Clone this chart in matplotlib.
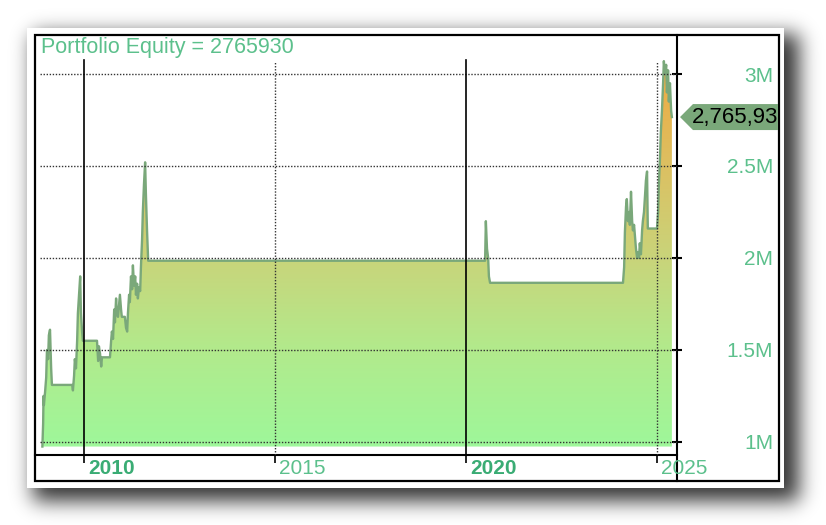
import numpy as np
import matplotlib
matplotlib.use('Agg')
from matplotlib import pyplot as plt
from matplotlib import transforms
from matplotlib.colors import LinearSegmentedColormap
from matplotlib.patches import Rectangle, Polygon

# =============================================================================================
# Data: portfolio equity curve (millions) against decimal year
years = [2008.91, 2008.93, 2008.94, 2008.95, 2008.98, 2009.01, 2009.03, 2009.06, 2009.08,
         2009.11, 2009.14, 2009.16,
         2009.69, 2009.71, 2009.74, 2009.76, 2009.79, 2009.82, 2009.84, 2009.87, 2009.90,
         2009.92, 2009.95, 2009.97,
         2010.34, 2010.37, 2010.39, 2010.42, 2010.45, 2010.47,
         2010.68, 2010.71, 2010.73, 2010.76, 2010.79, 2010.81, 2010.84, 2010.86, 2010.89,
         2010.94, 2010.97, 2010.99,
         2011.07, 2011.10, 2011.13, 2011.15, 2011.18, 2011.20, 2011.23, 2011.26, 2011.28,
         2011.31, 2011.34, 2011.36, 2011.39, 2011.41, 2011.44, 2011.47, 2011.49, 2011.52,
         2011.54, 2011.57, 2011.60, 2011.62, 2011.65, 2011.68,
         2020.50, 2020.52, 2020.55, 2020.58, 2020.60, 2020.63,
         2024.11, 2024.14, 2024.16, 2024.19, 2024.21, 2024.24, 2024.27, 2024.29, 2024.32,
         2024.35, 2024.37, 2024.40, 2024.45, 2024.48, 2024.50, 2024.53, 2024.55, 2024.58,
         2024.61, 2024.63, 2024.66, 2024.69, 2024.71, 2024.74, 2024.76,
         2025.00, 2025.03, 2025.05, 2025.08, 2025.10, 2025.13, 2025.16, 2025.18, 2025.21,
         2025.24, 2025.26, 2025.29, 2025.31, 2025.34, 2025.37, 2025.39]
equity = [0.975, 1.10, 1.25, 1.20, 1.27, 1.35, 1.50, 1.45, 1.58, 1.61, 1.40, 1.31,
          1.31, 1.28, 1.36, 1.45, 1.40, 1.55, 1.70, 1.80, 1.90, 1.70, 1.60, 1.55,
          1.55, 1.44, 1.52, 1.48, 1.41, 1.46,
          1.46, 1.55, 1.60, 1.56, 1.72, 1.65, 1.78, 1.70, 1.68, 1.80, 1.72, 1.68,
          1.68, 1.62, 1.60, 1.70, 1.80, 1.76, 1.90, 1.83, 1.96, 1.85, 1.90, 1.80,
          1.86, 1.78, 1.84, 1.82, 1.95, 2.10, 2.25, 2.40, 2.52, 2.35, 2.15, 1.985,
          1.985, 2.20, 2.05, 2.00, 1.90, 1.865,
          1.865, 1.95, 2.14, 2.28, 2.32, 2.20, 2.25, 2.18, 2.36, 2.20, 2.15, 2.18,
          2.05, 2.00, 2.03, 2.00, 2.08, 2.02, 2.15, 2.20, 2.25, 2.35, 2.42, 2.47, 2.16,
          2.16, 2.25, 2.40, 2.55, 2.68, 2.80, 2.95, 3.07, 3.00, 3.05, 2.90, 3.02,
          2.85, 2.95, 2.80, 2.766]
final_equity = 2765930
y_ticks = [1.0, 1.5, 2.0, 2.5, 3.0]
y_tick_labels = ['1M', '1.5M', '2M', '2.5M', '3M']
x_ticks = [2010, 2015, 2020, 2025]
bold_years = [2010, 2020]
# =============================================================================================

W, H = 826, 525
FONT = 'Liberation Sans'
TEXT_GREEN = '#5cc08c'
BOLD_GREEN = '#3aac74'
LINE_GREEN = '#7aa87a'
DOT = (0, (1, 1.2))

fig = plt.figure(figsize=(W / 100, H / 100), dpi=100)

# background layer in pixel coordinates: shadow, white card, frame
bg = fig.add_axes([0, 0, 1, 1])
bg.set_xlim(0, W)
bg.set_ylim(H, 0)
bg.axis('off')

yy, xx = np.mgrid[0:H, 0:W]
mask = ((xx >= 33) & (xx <= 798) & (yy >= 34) & (yy <= 500)).astype(float)
k = np.exp(-0.5 * (np.arange(-36, 37) / 10.0) ** 2)
k /= k.sum()
blur = np.apply_along_axis(lambda r: np.convolve(r, k, mode='same'), 1, mask)
blur = np.apply_along_axis(lambda c: np.convolve(c, k, mode='same'), 0, blur)
shadow = np.zeros((H, W, 4))
shadow[..., 3] = 0.8 * blur
bg.imshow(shadow, extent=(0, W, H, 0), aspect='auto', zorder=0)

bg.add_patch(Rectangle((27, 28), 757, 460, facecolor='white', edgecolor='none', zorder=1))
bg.add_patch(Rectangle((34.5, 34.5), 744, 446, fill=False, edgecolor='black', lw=1.6, zorder=5))
bg.plot([35, 677], [455, 455], color='black', lw=1.5, zorder=5)
bg.plot([677, 677], [35, 481], color='black', lw=1.5, zorder=5)

# main chart axes
ax = fig.add_axes([35 / W, 1 - 455 / H, 642 / W, 420 / H])
ax.patch.set_alpha(0)
for s in ax.spines.values():
    s.set_visible(False)
ax.set_xlim(2008.717, 2025.524)
ax.set_ylim(0.929, 3.212)

# gradient fill under the curve
ylo, yhi = ax.get_ylim()
stops = [(0.975, '#9ef79a'), (1.5, '#b2ea8c'), (2.0, '#c9d47a'),
         (2.5, '#dcc062'), (2.9, '#eab04a')]
cmap = LinearSegmentedColormap.from_list(
    'eq', [((v - ylo) / (yhi - ylo), c) for v, c in
           [(ylo, '#9ef79a')] + stops + [(yhi, '#eeaa44')]])
poly = ax.fill_between(years, equity, 0.975, facecolor='none', edgecolor='none')
grad = np.linspace(ylo, yhi, 400).reshape(-1, 1)
im = ax.imshow(grad, extent=[2008.717, 2025.524, ylo, yhi], origin='lower',
               cmap=cmap, vmin=ylo, vmax=yhi, aspect='auto', zorder=1)
im.set_clip_path(poly.get_paths()[0], transform=ax.transData)

ax.plot(years, equity, color=LINE_GREEN, lw=1.7, zorder=3)

# grid lines
for v in y_ticks:
    ax.axhline(v, xmin=5 / 642, xmax=1, color='#333333', lw=1.0, ls=DOT, zorder=4)
for yr in x_ticks:
    if yr in bold_years:
        ax.axvline(yr, ymin=0, ymax=(455 - 60) / 420, color='black', lw=1.2, zorder=4)
    else:
        ax.axvline(yr, ymin=0, ymax=(455 - 62) / 420, color='#333333', lw=1.0, ls=DOT, zorder=4)

# y axis on the right
ax.yaxis.tick_right()
ax.set_yticks(y_ticks, y_tick_labels)
ax.tick_params(axis='y', direction='inout', length=6.5, width=1.5, color='black',
               pad=65.9, labelsize=15, labelcolor=TEXT_GREEN)
for lbl in ax.get_yticklabels():
    lbl.set_ha('right')
    lbl.set_family(FONT)

# x axis
ax.set_xticks(x_ticks, [str(y) for y in x_ticks])
ax.tick_params(axis='x', direction='out', length=5.8, width=1.2, color='black',
               pad=-2.9, labelsize=15)
shift = transforms.ScaledTranslation(4 / 100, 0, fig.dpi_scale_trans)
for yr, lbl in zip(x_ticks, ax.get_xticklabels()):
    lbl.set_ha('left')
    lbl.set_family(FONT)
    lbl.set_transform(lbl.get_transform() + shift)
    if yr in bold_years:
        lbl.set_fontweight('bold')
        lbl.set_color(BOLD_GREEN)
    else:
        lbl.set_color(TEXT_GREEN)

# title
ax.text(6 / 642, (455 - 47) / 420, 'Portfolio Equity = %d' % final_equity,
        transform=ax.transAxes, ha='left', va='center', fontsize=15.5,
        family=FONT, color=TEXT_GREEN, zorder=6)

# last value marker on the right axis
val = final_equity / 1e6
mix = transforms.blended_transform_factory(ax.transAxes, ax.transData)
dy = 13 / 184
tag = Polygon([(1.0047, val), (1.0249, val + dy), (1.1573, val + dy),
               (1.1573, val - dy), (1.0249, val - dy)], closed=True,
              facecolor=LINE_GREEN, edgecolor='none', transform=mix, clip_on=False, zorder=6)
ax.add_patch(tag)
t = ax.text(1.0234, val, '{:,}'.format(final_equity), transform=mix, ha='left',
            va='center', fontsize=16, family=FONT, color='black', zorder=7, clip_on=True)
t.set_clip_path(Rectangle((677, 34), 101, 447, transform=bg.transData))

plt.savefig('out.png', dpi=100)
plt.close()
# eof
